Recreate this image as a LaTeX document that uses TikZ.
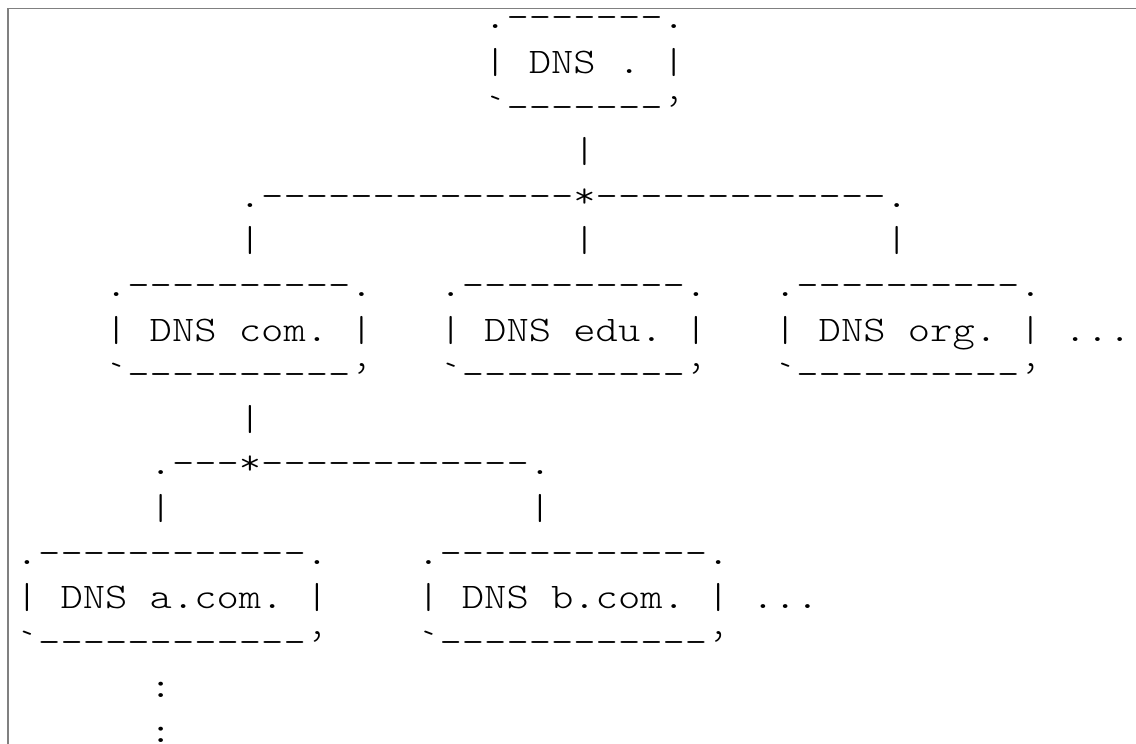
\documentclass[tikz,border=0pt]{standalone}
\usepackage{fontspec}
\setmonofont{lmmonolt10-regular.otf}[FakeStretch=1.18]
\tikzstyle{asc}=[font=\ttfamily\fontsize{18pt}{22.3pt}\selectfont, inner sep=0pt, anchor=base west]
\tikzstyle{frame}=[draw=gray, line width=0.6pt]

\begin{document}
\begin{tikzpicture}
    \useasboundingbox (0,0) rectangle (568pt,-372pt);
    \draw[frame] (4pt,-372pt) -- (4pt,-4.25pt) -- (568pt,-4.25pt);
    \begin{scope}[x=11.15pt, y=-22.3pt, shift={(7.75pt,-14.4pt)}]
    % root server
    \node[asc] (dns-top) at (21,0) {.-------.};
    \node[asc] (dns) at (21,1) {| DNS . |};
    \node[asc] (dns-bot) at (21,2) {`-------’};
    \node[asc] (v-root) at (25,3) {|};
    \node[asc] (br-root) at (10,4) {.--------------*-------------.};
    \node[asc] (v-com) at (10,5) {|};
    \node[asc] (v-edu) at (25,5) {|};
    \node[asc] (v-org) at (39,5) {|};
    % top level domains
    \node[asc] (com-top) at (4,6) {.----------.};
    \node[asc] (com) at (4,7) {| DNS com. |};
    \node[asc] (com-bot) at (4,8) {`----------’};
    \node[asc] (edu-top) at (19,6) {.----------.};
    \node[asc] (edu) at (19,7) {| DNS edu. |};
    \node[asc] (edu-bot) at (19,8) {`----------’};
    \node[asc] (org-top) at (34,6) {.----------.};
    \node[asc] (org) at (34,7) {| DNS org. |};
    \node[asc] (org-bot) at (34,8) {`----------’};
    \node[asc] (tld-more) at (47,7) {...};
    \node[asc] (v-down) at (10,9) {|};
    \node[asc] (br-com) at (6,10) {.---*------------.};
    \node[asc] (v-a) at (6,11) {|};
    \node[asc] (v-b) at (23,11) {|};
    % second level
    \node[asc] (a-top) at (0,12) {.------------.};
    \node[asc] (a) at (0,13) {| DNS a.com. |};
    \node[asc] (a-bot) at (0,14) {`------------’};
    \node[asc] (b-top) at (18,12) {.------------.};
    \node[asc] (b) at (18,13) {| DNS b.com. |};
    \node[asc] (b-bot) at (18,14) {`------------’};
    \node[asc] (sld-more) at (33,13) {...};
    \node[asc] (dots1) at (6,15) {:};
    \node[asc] (dots2) at (6,16) {:};
    \end{scope}
\end{tikzpicture}
\end{document}
